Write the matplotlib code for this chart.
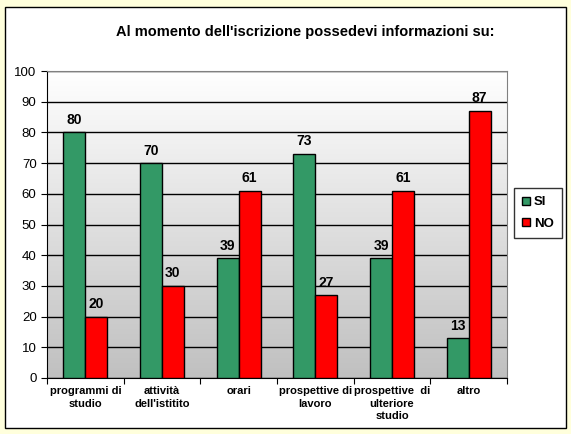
import numpy as np
import matplotlib
matplotlib.use("Agg")
from matplotlib import pyplot as plt
from matplotlib.patches import Rectangle

plt.rcParams['font.family'] = ['Liberation Sans', 'DejaVu Sans']

categories = ["programmi di\nstudio", "attività\ndell'istitito", "orari",
              "prospettive di\nlavoro", "prospettive  di\nulteriore\nstudio", "altro"]
si_values = [80, 70, 39, 73, 39, 13]
no_values = [20, 30, 61, 27, 61, 87]
title = "Al momento dell'iscrizione possedevi informazioni su:"

fig = plt.figure(figsize=(5.71, 4.34), dpi=100, facecolor="#FFFFDC")
# white chart area with black frame
fig.patches.append(Rectangle((5 / 571, 6 / 434), 561 / 571, 421 / 434,
                             transform=fig.transFigure, facecolor="white",
                             edgecolor="black", linewidth=1, zorder=-5))

ax = fig.add_axes([47 / 571, 1 - 378 / 434, 460 / 571, 307 / 434])
ax.set_facecolor("none")
ax.set_zorder(2)

x = np.arange(len(categories))
w = 1 / 3.5
ax.set_xlim(-0.5, len(categories) - 0.5)
ax.set_ylim(0, 100)

# gradient background white -> gray
grad = np.linspace(0, 1, 256).reshape(-1, 1)
ax.imshow(grad, cmap=matplotlib.colors.LinearSegmentedColormap.from_list(
    "bg", ["#C0C0C0", "#FFFFFF"]), aspect="auto", origin="lower",
    extent=(-0.5, len(categories) - 0.5, 0, 100), zorder=0)

ax.yaxis.grid(True, color="black", linewidth=1, zorder=1)
ax.set_axisbelow(True)

b1 = ax.bar(x - w / 2, si_values, w, color="#339966", edgecolor="black",
            linewidth=1, label="SI", zorder=3)
b2 = ax.bar(x + w / 2, no_values, w, color="#FF0000", edgecolor="black",
            linewidth=1, label="NO", zorder=3)

for bars, vals in [(b1, si_values), (b2, no_values)]:
    for bar, v in zip(bars, vals):
        ax.annotate(str(v), (bar.get_x() + bar.get_width() / 2, v),
                    xytext=(0, 4), textcoords="offset points", ha="center",
                    va="bottom", fontsize=10, fontweight="bold", zorder=4)

ax.set_yticks(range(0, 101, 10))
ax.tick_params(axis="y", labelsize=9.5, length=4, direction="out")
ax.set_xticks(np.arange(-0.5, len(categories), 1), minor=False)
ax.set_xticklabels([])
ax.tick_params(axis="x", length=4, direction="out")
ax.set_xticks(x, minor=True)
ax.set_xticklabels(categories, minor=True, fontsize=8, fontweight="bold",
                   linespacing=1.3)
ax.tick_params(axis="x", which="minor", length=0, pad=6)

ax.spines["left"].set_color("black")
ax.spines["bottom"].set_color("black")
ax.spines["top"].set_color("#808080")
ax.spines["right"].set_color("#808080")

leg = fig.legend(handles=[b1, b2], loc="center", bbox_to_anchor=(538 / 571, 1 - 213 / 434),
                 prop={"size": 9.5, "weight": "bold"}, frameon=True, fancybox=False,
                 handlelength=0.6, handleheight=0.6, handletextpad=0.3,
                 borderpad=0.6, labelspacing=0.7, borderaxespad=0)
leg.get_frame().set_edgecolor("black")
leg.get_frame().set_linewidth(1)

fig.text(305 / 571, 1 - 32 / 434, title, ha="center", va="center",
         fontsize=10.5, fontweight="bold")

fig.savefig("out.png", dpi=100, facecolor=fig.get_facecolor())
